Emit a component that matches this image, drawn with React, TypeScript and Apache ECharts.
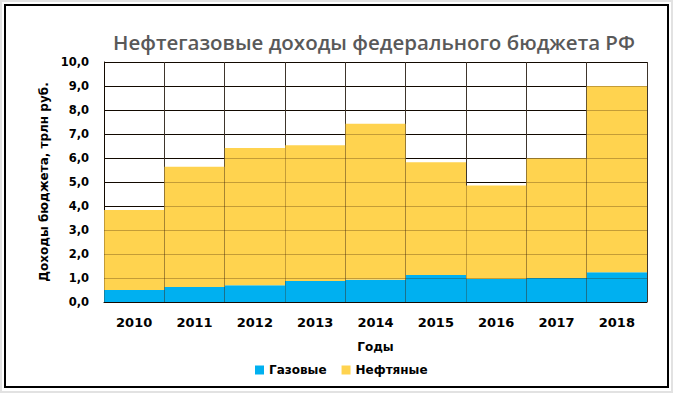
import React, { useEffect, useRef } from "react";
import * as echarts from "echarts";

const years = ["2010", "2011", "2012", "2013", "2014", "2015", "2016", "2017", "2018"];
const gasRevenue = [0.5, 0.62, 0.7, 0.88, 0.93, 1.13, 0.96, 1.0, 1.24];
const totalRevenue = [3.83, 5.64, 6.42, 6.53, 7.43, 5.82, 4.85, 5.99, 9.0];
const oilRevenue = totalRevenue.map((t, i) => +(t - gasRevenue[i]).toFixed(2));

const FONT = "DejaVu Sans";

export default function App() {
  const ref = useRef<HTMLDivElement>(null);
  useEffect(() => {
    document.body.style.margin = "0";
    const chart = echarts.init(ref.current!, null, { renderer: "svg" });
    const fmt = (v: number) => v.toFixed(1).replace(".", ",");
    chart.setOption({
      animation: false,
      backgroundColor: "#e2e2e2",
      graphic: [
        { type: "rect", z: -10, shape: { x: 2, y: 2, width: 669, height: 389 }, style: { fill: "#ffffff" } },
        { type: "rect", z: 100, shape: { x: 5, y: 5, width: 663, height: 382 }, style: { fill: "none", stroke: "#000", lineWidth: 2 } },
      ],
      title: {
        text: "Нефтегазовые доходы федерального бюджета РФ",
        left: 108,
        top: 26,
        textStyle: { fontFamily: "Open Sans", fontWeight: 600, fontSize: 20.5, color: "#595959" },
      },
      legend: {
        bottom: 12,
        left: 250,
        itemWidth: 9,
        itemHeight: 9,
        itemGap: 15,
        icon: "rect",
        textStyle: { fontFamily: FONT, fontWeight: "bold", fontSize: 12, color: "#000" },
        data: ["Газовые", "Нефтяные"],
      },
      grid: { left: 104, right: 26, top: 62, bottom: 91 },
      xAxis: [
        {
          type: "category",
          data: years,
          name: "Годы",
          nameLocation: "middle",
          nameGap: 39,
          nameTextStyle: { fontFamily: FONT, fontWeight: "bold", fontSize: 12, color: "#000" },
          axisLine: { lineStyle: { color: "#000", width: 1 } },
          axisTick: { show: false },
          axisLabel: { fontFamily: FONT, fontWeight: "bold", fontSize: 13, color: "#000", margin: 14 },
          splitLine: { show: true, lineStyle: { color: "#404040", width: 1 } },
        },
        {
          type: "category",
          data: years,
          position: "bottom",
          z: 5,
          axisLine: { show: false },
          axisTick: { show: false },
          axisLabel: { show: false },
          splitLine: { show: true, lineStyle: { color: "rgba(60,30,0,0.3)", width: 1 } },
        },
      ],
      yAxis: [
        {
          type: "value",
          min: 0,
          max: 10,
          interval: 1,
          name: "Доходы бюджета, трлн руб.",
          nameLocation: "middle",
          nameGap: 52,
          nameTextStyle: { fontFamily: FONT, fontWeight: "bold", fontSize: 12, color: "#000" },
          axisLine: { show: true, lineStyle: { color: "#000", width: 1 } },
          axisTick: { show: false },
          axisLabel: { fontFamily: FONT, fontWeight: "bold", fontSize: 11.5, color: "#000", margin: 15, formatter: fmt },
          splitLine: { show: true, lineStyle: { color: "#000", width: 1 } },
        },
        {
          type: "value",
          min: 0,
          max: 10,
          interval: 1,
          position: "left",
          z: 5,
          axisLine: { show: false },
          axisTick: { show: false },
          axisLabel: { show: false },
          splitLine: { show: true, lineStyle: { color: "rgba(60,30,0,0.3)", width: 1 } },
        },
      ],
      series: [
        {
          name: "Газовые",
          type: "bar",
          stack: "total",
          data: gasRevenue,
          barCategoryGap: "0%",
          itemStyle: { color: "#00b0f0" },
        },
        {
          name: "Нефтяные",
          type: "bar",
          stack: "total",
          data: oilRevenue,
          barCategoryGap: "0%",
          itemStyle: { color: "#ffd34f" },
        },
      ],
    });
    return () => chart.dispose();
  }, []);
  return <div ref={ref} style={{ width: 673, height: 393 }} />;
}
